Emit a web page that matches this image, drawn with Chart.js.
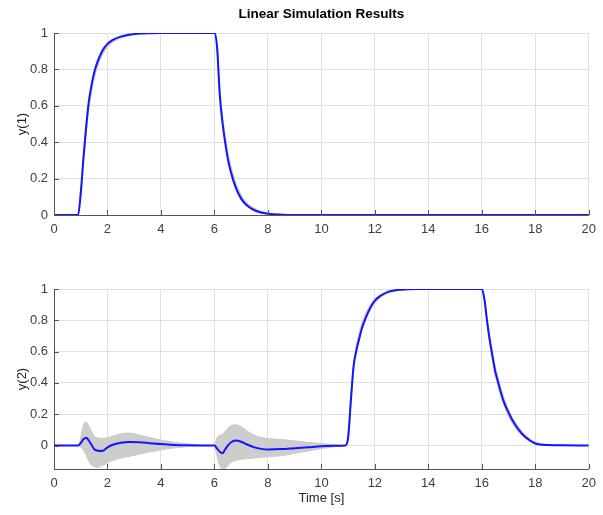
<!DOCTYPE html>
<html><head><meta charset="utf-8">
<script src="https://cdn.jsdelivr.net/npm/chart.js@4.4.1/dist/chart.umd.min.js"></script>
<style>
html,body{margin:0;padding:0;background:#fff;overflow:hidden;width:603px;height:515px;}
#c1{position:absolute;left:0;top:0;}
#c2{position:absolute;left:0;top:250px;}
</style></head><body>
<canvas id="c1" width="603" height="250"></canvas>
<canvas id="c2" width="603" height="265"></canvas>
<script>
const time = [0, 0.9, 1.0, 1.1, 1.2, 1.3, 1.4, 1.5, 1.6, 1.8, 2.0, 2.2, 2.5, 2.8, 3.2, 3.6, 4.0, 4.5, 5.0, 5.5,
  6.0, 6.1, 6.2, 6.3, 6.4, 6.5, 6.6, 6.8, 7.0, 7.2, 7.5, 7.8, 8.0, 8.5, 9.0, 9.5, 10.0, 10.5, 10.9,
  11.0, 11.1, 11.2, 11.3, 11.4, 11.5, 11.6, 11.8, 12.0, 12.2, 12.5, 12.8, 13.2, 13.6, 14.0, 15.0,
  16.0, 16.1, 16.2, 16.3, 16.4, 16.5, 16.6, 16.8, 17.0, 17.2, 17.5, 17.8, 18.0, 18.5, 19.0, 20.0];

// output 1: nominal response and spread of the simulated responses
const y1 = [0, 0, 0.12, 0.31, 0.48, 0.62, 0.71, 0.78, 0.83, 0.90, 0.94, 0.962, 0.98, 0.99, 0.997, 0.999, 1, 1, 1, 1,
  1, 0.92, 0.66, 0.51, 0.40, 0.31, 0.245, 0.15, 0.09, 0.055, 0.026, 0.012, 0.007, 0.002, 0, 0, 0, 0, 0,
  0, 0, 0, 0, 0, 0, 0, 0, 0, 0, 0, 0, 0, 0, 0, 0,
  0, 0, 0, 0, 0, 0, 0, 0, 0, 0, 0, 0, 0, 0, 0, 0];
const y1Upper = [0, 0, 0.14, 0.33, 0.50, 0.63, 0.72, 0.79, 0.84, 0.905, 0.945, 0.965, 0.983, 0.993, 0.998, 1, 1, 1, 1, 1,
  1, 0.94, 0.70, 0.55, 0.44, 0.35, 0.28, 0.18, 0.11, 0.07, 0.036, 0.018, 0.011, 0.004, 0.001, 0, 0, 0, 0,
  0, 0.002, 0.003, 0.003, 0.003, 0.003, 0.002, 0.002, 0.001, 0, 0, 0, 0, 0, 0, 0,
  0, 0.002, 0.003, 0.003, 0.003, 0.002, 0.002, 0.001, 0.001, 0, 0, 0, 0, 0, 0, 0];
const y1Lower = [0, 0, 0.09, 0.27, 0.44, 0.58, 0.67, 0.745, 0.80, 0.875, 0.92, 0.948, 0.972, 0.985, 0.994, 0.998, 1, 1, 1, 1,
  1, 0.91, 0.65, 0.50, 0.39, 0.30, 0.235, 0.14, 0.082, 0.05, 0.022, 0.009, 0.005, 0.001, 0, 0, 0, 0, 0,
  0, -0.002, -0.003, -0.003, -0.003, -0.002, -0.002, -0.001, -0.001, 0, 0, 0, 0, 0, 0, 0,
  0, -0.002, -0.003, -0.003, -0.002, -0.002, -0.001, -0.001, 0, 0, 0, 0, 0, 0, 0, 0];

// output 2
const y2 = [0, 0, 0.015, 0.04, 0.05, 0.032, 0.005, -0.022, -0.032, -0.035, -0.012, 0.005, 0.017, 0.022, 0.021, 0.015, 0.009, 0.004, 0.001, 0,
  0, -0.02, -0.04, -0.05, -0.025, 0.0, 0.018, 0.032, 0.024, 0.008, -0.012, -0.023, -0.025, -0.023, -0.017, -0.011, -0.005, -0.002, 0,
  0.05, 0.28, 0.50, 0.60, 0.672, 0.74, 0.79, 0.87, 0.925, 0.955, 0.982, 0.993, 0.998, 1, 1, 1,
  1, 0.93, 0.79, 0.67, 0.57, 0.475, 0.41, 0.29, 0.21, 0.145, 0.075, 0.032, 0.013, 0.003, 0.001, 0];
const y2Upper = [0, 0, 0.05, 0.13, 0.15, 0.125, 0.09, 0.06, 0.05, 0.045, 0.05, 0.06, 0.075, 0.08, 0.066, 0.05, 0.035, 0.02, 0.01, 0.003,
  0, 0.05, 0.065, 0.07, 0.09, 0.11, 0.125, 0.132, 0.12, 0.095, 0.065, 0.05, 0.045, 0.038, 0.03, 0.02, 0.012, 0.005, 0.001,
  0.08, 0.32, 0.52, 0.64, 0.71, 0.775, 0.825, 0.89, 0.937, 0.965, 0.988, 0.996, 1, 1, 1, 1,
  1, 0.95, 0.82, 0.70, 0.60, 0.51, 0.44, 0.32, 0.23, 0.165, 0.09, 0.042, 0.022, 0.006, 0.002, 0];
const y2Lower = [0, 0, -0.01, -0.03, -0.06, -0.10, -0.125, -0.135, -0.14, -0.13, -0.11, -0.095, -0.08, -0.07, -0.055, -0.04, -0.028, -0.015, -0.007, -0.002,
  0, -0.07, -0.13, -0.155, -0.15, -0.13, -0.11, -0.095, -0.088, -0.084, -0.08, -0.075, -0.072, -0.065, -0.05, -0.035, -0.02, -0.008, -0.001,
  0.03, 0.26, 0.47, 0.59, 0.66, 0.73, 0.78, 0.855, 0.91, 0.945, 0.975, 0.988, 0.996, 0.999, 1, 1,
  1, 0.91, 0.77, 0.64, 0.54, 0.45, 0.38, 0.27, 0.185, 0.125, 0.065, 0.025, 0.01, 0.001, 0, 0];

const xTicks = [0, 2, 4, 6, 8, 10, 12, 14, 16, 18, 20];
const yTicks = [0, 0.2, 0.4, 0.6, 0.8, 1];
const titleText = 'Linear Simulation Results';
const xLabel = 'Time [s]';
const yLabel1 = 'y(1)';
const yLabel2 = 'y(2)';

const FONT = '"Liberation Sans", Arial, Helvetica, sans-serif';
const AXIS = '#555555';
const GRID = '#e0e0e0';
const TXT = '#404040';

const innerTicks = {
  id: 'innerTicks',
  afterDatasetsDraw(chart) {
    const {ctx, chartArea: a, scales: {x, y}} = chart;
    ctx.save();
    ctx.strokeStyle = AXIS;
    ctx.lineWidth = 1;
    ctx.beginPath();
    x.ticks.forEach(t => {
      const px = Math.round(x.getPixelForValue(t.value)) + 0.5;
      ctx.moveTo(px, a.bottom); ctx.lineTo(px, a.bottom - 5);
    });
    y.ticks.forEach(t => {
      const py = Math.round(y.getPixelForValue(t.value)) + 0.5;
      ctx.moveTo(a.left, py); ctx.lineTo(a.left + 5, py);
    });
    ctx.stroke();
    ctx.restore();
  }
};

function pts(vals) { return time.map((t, i) => ({x: t, y: vals[i]})); }

function makeChart(id, vals, upper, lower, yMin, yLabel, cfg) {
  return new Chart(document.getElementById(id), {
    type: 'line',
    data: {
      datasets: [
        {data: pts(vals), borderColor: '#1414ff', borderWidth: 2, pointRadius: 0, fill: false, order: 0,
         cubicInterpolationMode: 'monotone'},
        {data: pts(upper), borderColor: '#c8c8c8', borderWidth: 1, pointRadius: 0, fill: '+1',
         backgroundColor: 'rgba(205,205,205,1)', order: 1, cubicInterpolationMode: 'monotone'},
        {data: pts(lower), borderColor: '#c8c8c8', borderWidth: 1, pointRadius: 0, fill: false, order: 2,
         cubicInterpolationMode: 'monotone'}
      ]
    },
    options: {
      responsive: false,
      animation: false,
      events: [],
      layout: {padding: {left: 0, right: 9, top: cfg.padTop, bottom: 0}},
      plugins: {
        legend: {display: false},
        tooltip: {enabled: false},
        title: cfg.title ? {
          display: true, text: cfg.title, fullSize: false,
          font: {family: FONT, size: 13.5, weight: 'bold'}, color: '#000',
          padding: {top: 5.9, bottom: 10.9}
        } : {display: false}
      },
      scales: {
        x: {
          type: 'linear', min: 0, max: 20,
          afterBuildTicks: s => { s.ticks = xTicks.map(v => ({value: v})); },
          afterFit: s => { s.height = cfg.xHeight; },
          ticks: {font: {family: FONT, size: 13}, color: TXT, padding: 7, maxRotation: 0, autoSkip: false},
          grid: {color: GRID, drawTicks: false, lineWidth: 1},
          border: {color: AXIS, width: 1},
          title: cfg.xLabel ? {display: true, text: cfg.xLabel, font: {family: FONT, size: 13}, color: '#262626',
            padding: {top: 0, bottom: 8.8}} : {display: false}
        },
        y: {
          type: 'linear', min: yMin, max: 1,
          afterBuildTicks: s => { s.ticks = yTicks.map(v => ({value: v})); },
          afterFit: s => { s.width = 54; },
          ticks: {font: {family: FONT, size: 13}, color: TXT, padding: 6,
            callback: v => String(Math.round(v * 10) / 10)},
          grid: {color: GRID, drawTicks: false, lineWidth: 1},
          border: {color: AXIS, width: 1},
          title: {display: true, text: yLabel, font: {family: FONT, size: 13}, color: '#262626',
            padding: {top: 14.2, bottom: 0}}
        }
      }
    },
    plugins: [innerTicks]
  });
}

makeChart('c1', y1, y1Upper, y1Lower, 0, yLabel1, {title: titleText, padTop: 0, xHeight: 35});
makeChart('c2', y2, y2Upper, y2Lower, -0.15, yLabel2, {xLabel: xLabel, padTop: 39, xHeight: 46});
</script>
</body></html>
